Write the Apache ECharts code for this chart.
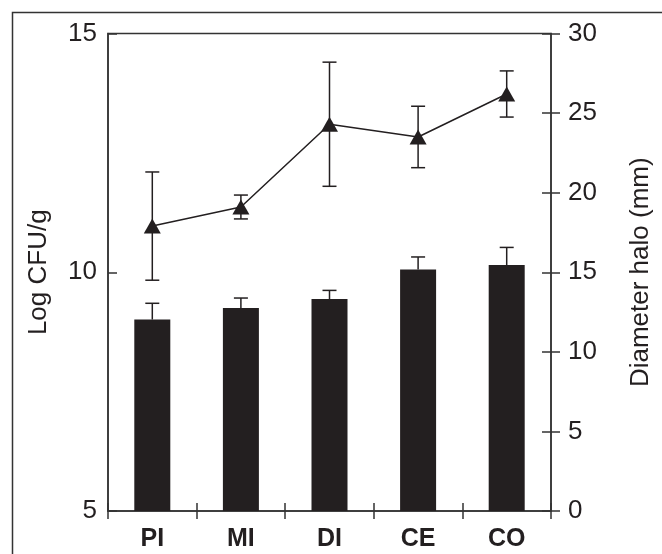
<!DOCTYPE html>
<html>
<head>
<meta charset="utf-8">
<script src="https://cdn.jsdelivr.net/npm/echarts@6/dist/echarts.min.js"></script>
<style>html,body{margin:0;padding:0;background:#fff;}#chart{width:662px;height:554px;}</style>
</head>
<body>
<div id="chart"></div>
<script>
const categories = ['PI', 'MI', 'DI', 'CE', 'CO'];
const logCfu = [9.01, 9.25, 9.44, 10.06, 10.15];
const logCfuErr = [0.34, 0.21, 0.18, 0.26, 0.37];
const haloDiameter = [17.9, 19.1, 24.3, 23.5, 26.2];
const haloErr = [3.4, 0.75, 3.9, 1.93, 1.45];
const leftAxisName = 'Log CFU/g';
const rightAxisName = 'Diameter halo (mm)';

const INK = '#231f20';
const FONT = 'Liberation Sans, Arial, sans-serif';

function errRender(upOnly) {
  return function (params, api) {
    const x = api.value(0), v = api.value(1), e = api.value(2);
    const pTop = api.coord([x, v + e]);
    const pBot = api.coord([x, upOnly ? v : v - e]);
    const hw = 7;
    const st = { stroke: INK, lineWidth: 1.5 };
    const children = [
      { type: 'line', shape: { x1: pTop[0], y1: pTop[1], x2: pBot[0], y2: pBot[1] }, style: st },
      { type: 'line', shape: { x1: pTop[0] - hw, y1: pTop[1], x2: pTop[0] + hw, y2: pTop[1] }, style: st }
    ];
    if (!upOnly) {
      children.push({ type: 'line', shape: { x1: pBot[0] - hw, y1: pBot[1], x2: pBot[0] + hw, y2: pBot[1] }, style: st });
    }
    return { type: 'group', children: children };
  };
}

const chart = echarts.init(document.getElementById('chart'));
chart.setOption({
  animation: false,
  backgroundColor: '#fff',
  graphic: [{
    type: 'rect', shape: { x: 12.5, y: 12.5, width: 700, height: 600 },
    style: { fill: 'none', stroke: '#333', lineWidth: 1.5 }, silent: true, z: -10
  }],
  grid: { left: 108, right: 108, top: 33.5, bottom: 43, show: true, borderColor: '#333', borderWidth: 1.5, backgroundColor: 'transparent' },
  xAxis: [{
    type: 'category', data: categories, position: 'bottom',
    axisLine: { lineStyle: { color: '#333', width: 1.5 } },
    axisTick: { show: true, inside: false, length: 8, lineStyle: { color: '#333', width: 1.5 } },
    axisLabel: { color: INK, fontFamily: FONT, fontWeight: 'bold', fontSize: 25, margin: 16 },
    splitLine: { show: false }
  }, {
    type: 'category', data: categories, position: 'bottom',
    axisLine: { show: false },
    axisTick: { show: true, inside: true, length: 8, lineStyle: { color: '#333', width: 1.5 } },
    axisLabel: { show: false }, splitLine: { show: false }
  }],
  yAxis: [{
    type: 'value', position: 'left', min: 5, max: 15, interval: 5,
    name: leftAxisName, nameLocation: 'middle', nameGap: 56, nameRotate: 90,
    nameTextStyle: { color: INK, fontFamily: FONT, fontSize: 26 },
    axisLine: { show: true, lineStyle: { color: '#333', width: 1.5 } },
    axisTick: { show: true, inside: true, length: 9, lineStyle: { color: '#333', width: 1.5 } },
    axisLabel: { color: INK, fontFamily: FONT, fontSize: 26, margin: 11 },
    splitLine: { show: false }
  }, {
    type: 'value', position: 'right', min: 0, max: 30, interval: 5,
    name: rightAxisName, nameLocation: 'middle', nameGap: 77, nameRotate: 90,
    nameTextStyle: { color: INK, fontFamily: FONT, fontSize: 26 },
    axisLine: { show: true, lineStyle: { color: '#333', width: 1.5 } },
    axisTick: { show: true, inside: false, length: 9, lineStyle: { color: '#333', width: 1.5 } },
    axisLabel: { color: INK, fontFamily: FONT, fontSize: 26, margin: 17 },
    splitLine: { show: false }
  }, {
    type: 'value', position: 'right', min: 0, max: 30, interval: 5,
    axisLine: { show: false },
    axisTick: { show: true, inside: true, length: 9, lineStyle: { color: '#333', width: 1.5 } },
    axisLabel: { show: false }, splitLine: { show: false }
  }],
  series: [{
    type: 'bar', data: logCfu, xAxisIndex: 0, yAxisIndex: 0, barWidth: 36,
    itemStyle: { color: INK }, z: 2
  }, {
    type: 'custom', xAxisIndex: 0, yAxisIndex: 0, z: 3,
    data: categories.map((c, i) => [i, logCfu[i], logCfuErr[i]]),
    encode: { x: 0, y: 1 }, renderItem: errRender(true)
  }, {
    type: 'custom', xAxisIndex: 0, yAxisIndex: 1, z: 3,
    data: categories.map((c, i) => [i, haloDiameter[i], haloErr[i]]),
    encode: { x: 0, y: 1 }, renderItem: errRender(false)
  }, {
    type: 'line', data: haloDiameter, xAxisIndex: 0, yAxisIndex: 1, z: 4,
    symbol: 'triangle', symbolSize: [17, 15], showSymbol: true,
    lineStyle: { color: INK, width: 1.5 }, itemStyle: { color: INK }
  }]
});
</script>
</body>
</html>
